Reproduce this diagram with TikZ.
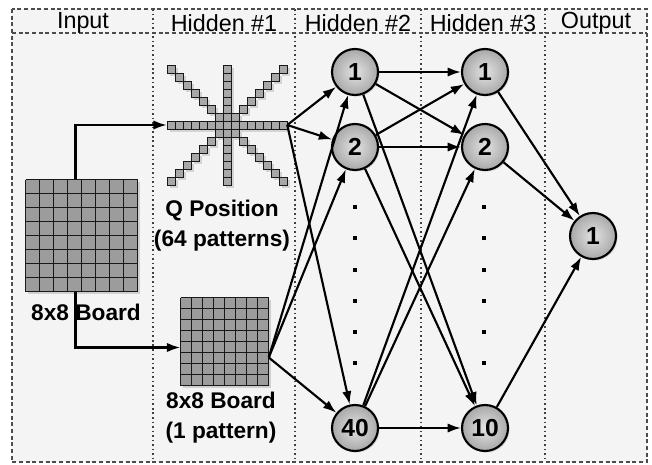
\documentclass[tikz,border=0pt]{standalone}
\usepackage{fontspec}
\setmainfont{Liberation Sans}
\usetikzlibrary{arrows.meta,shadows}

\begin{document}
\begin{tikzpicture}[x=0.75pt,y=-0.75pt,
  conn/.style={line width=1.6pt,-{Latex[length=10pt,width=7pt]}},
  unit/.style={circle,draw=black,line width=1.6pt,minimum size=34.5pt,inner sep=0pt,
    inner color=gray!22,outer color=gray!68,
    drop shadow={opacity=0.2,shadow xshift=1.2pt,shadow yshift=-1.2pt},
    font=\fontsize{18.5}{20}\selectfont\bfseries},
  gridline/.style={draw=black!90,line width=0.9pt},
  qcell/.style={fill=gray!68,draw=black!90,line width=0.8pt},
  lbl/.style={font=\fontsize{17}{22.5}\selectfont\bfseries,align=center},
  head/.style={font=\fontsize{17.5}{20}\selectfont},
  frame/.style={draw=black!70,dash pattern=on 3pt off 2pt,line width=0.9pt},
  sep/.style={draw=black!75,dash pattern=on 1.2pt off 2.2pt,line width=1pt},
  boardbox/.style={inner sep=0pt,fill=gray!78,
    drop shadow={opacity=0.3,shadow xshift=2pt,shadow yshift=-2pt}}
]
\useasboundingbox (0,0) rectangle (652,464);
\fill[white] (0,0) rectangle (652,464);
\fill[gray!9] (12,9) rectangle (647,462);

% frame, header line and column separators
\foreach \x in {153,295,421,545} \draw[sep] (\x,9) -- (\x,462);
\draw[frame] (12,9) rectangle (647,462);
\draw[frame] (12,33) -- (647,33);

% column headings
\node[head] (tin)  at (83,23)  {Input};
\node[head] (th1)  at (224,23) {Hidden \#1};
\node[head] (th2)  at (358,23) {Hidden \#2};
\node[head] (th3)  at (483,23) {Hidden \#3};
\node[head] (tout) at (596,23) {Output};

% input board: 8x8 cells of 14 units
\node[boardbox,minimum size=84pt] (board) at (81.5,235.5) {};
\foreach \i in {0,...,8} {
  \draw[gridline] ({25.5+\i*14},179.5) -- ({25.5+\i*14},291.5);
  \draw[gridline] (25.5,{179.5+\i*14}) -- (137.5,{179.5+\i*14});
}
\node[lbl] (boardlbl) at (86,312) {8x8 Board};

% queen-move pattern
\node[minimum size=90pt,inner sep=0pt] (star) at (227,125) {};
\foreach \k in {-7,...,7} {
  \fill[black,opacity=0.13] ({227+\k*8-1},{125-1}) rectangle +(8,8);
  \fill[black,opacity=0.13] ({227-1},{125+\k*8-1}) rectangle +(8,8);
  \fill[black,opacity=0.13] ({227+\k*8-1},{125+\k*8-1}) rectangle +(8,8);
  \fill[black,opacity=0.13] ({227+\k*8-1},{125-\k*8-1}) rectangle +(8,8);
}
\foreach \k in {-7,...,7} {
  \draw[qcell] ({227.5+\k*8-4},{125.5-4}) rectangle +(8,8);
  \draw[qcell] ({227.5-4},{125.5+\k*8-4}) rectangle +(8,8);
  \draw[qcell] ({227.5+\k*8-4},{125.5+\k*8-4}) rectangle +(8,8);
  \draw[qcell] ({227.5+\k*8-4},{125.5-\k*8-4}) rectangle +(8,8);
}
\node[lbl] (qlbl) at (222,226) {Q Position\\(64 patterns)};

% single board pattern: 8x8 cells of 11 units
\node[boardbox,minimum size=66pt] (sboard) at (224.5,341.5) {};
\foreach \i in {0,...,8} {
  \draw[gridline] ({180.5+\i*11},297.5) -- ({180.5+\i*11},385.5);
  \draw[gridline] (180.5,{297.5+\i*11}) -- (268.5,{297.5+\i*11});
}
\node[lbl] (sblbl) at (221,418) {8x8 Board\\(1 pattern)};
\coordinate (sbout) at ([yshift=-12pt]sboard.east);

% hidden and output units
\node[unit] (h1)  at (355,72)  {1};
\node[unit] (h2)  at (355,147) {2};
\node[unit] (h40) at (355,428) {40};
\node[unit] (g1)  at (485,72)  {1};
\node[unit] (g2)  at (485,147) {2};
\node[unit] (g10) at (485,428) {10};
\node[unit] (o1)  at (593,236) {1};

% ellipsis dots
\foreach \y in {207,238,270,301,332,363} {
  \fill (353,\y-2) rectangle +(4,4);
  \fill (482,\y-2) rectangle +(4,4);
}

% input to first hidden layer
\draw[conn] ([xshift=-4.5pt]board.north) |- (star.west);
\draw[conn] ([xshift=-4.5pt]board.south) |- ([yshift=-4.5pt]sboard.west);

% first to second hidden layer
\foreach \t in {h1,h2,h40} {
  \draw[conn] (star.east) -- (\t);
  \draw[conn] (sbout) -- (\t);
}

% second to third hidden layer
\foreach \s in {h1,h2,h40}
  \foreach \t in {g1,g2,g10}
    \draw[conn] (\s) -- (\t);

% third hidden layer to output
\foreach \s in {g1,g2,g10}
  \draw[conn] (\s) -- (o1);
\end{tikzpicture}
\end{document}
